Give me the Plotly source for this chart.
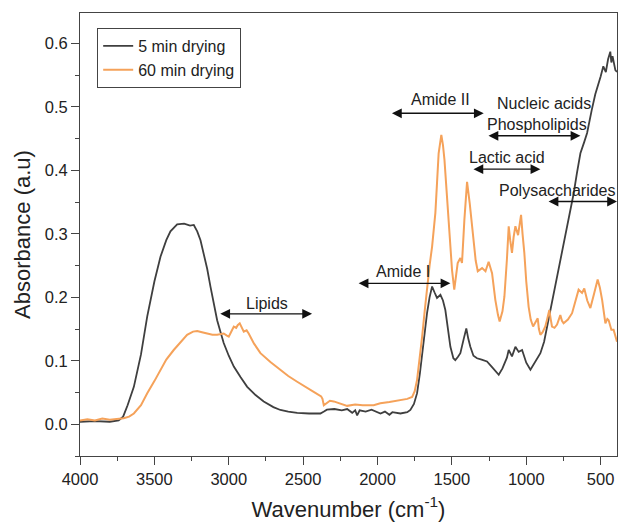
import plotly.graph_objects as go

# ---- data ----
wn_5min = [4000, 3900, 3800, 3740, 3710, 3680, 3638, 3590, 3548, 3500, 3459, 3420, 3392, 3347, 3300, 3260,
           3235, 3212, 3190, 3168, 3145, 3123, 3100, 3078, 3055, 3034, 3000, 2966, 2920, 2876, 2820, 2765,
           2700, 2653, 2600, 2540, 2460, 2384, 2360, 2340, 2290, 2240, 2204, 2170, 2150, 2137, 2120, 2080,
           2040, 2000, 1980, 1950, 1920, 1900, 1846, 1800, 1779, 1755, 1734, 1715, 1700, 1683, 1667, 1650,
           1633, 1617, 1600, 1577, 1560, 1544, 1527, 1510, 1490, 1477, 1460, 1443, 1420, 1403, 1390, 1376,
           1355, 1331, 1300, 1264, 1230, 1185, 1160, 1130, 1118, 1096, 1073, 1051, 1028, 1000, 972, 940,
           905, 880, 860, 825, 793, 760, 726, 700, 681, 660, 636, 610, 591, 560, 536, 500, 482, 465, 450,
           435, 428, 420, 410, 401, 390]
abs_5min = [0.004, 0.005, 0.004, 0.006, 0.012, 0.030, 0.059, 0.110, 0.170, 0.225, 0.264, 0.290, 0.304, 0.315,
            0.316, 0.313, 0.314, 0.304, 0.290, 0.270, 0.245, 0.217, 0.190, 0.164, 0.145, 0.128, 0.108, 0.091,
            0.074, 0.059, 0.046, 0.036, 0.027, 0.0225, 0.020, 0.018, 0.017, 0.017, 0.020, 0.023, 0.024, 0.022,
            0.024, 0.018, 0.022, 0.014, 0.022, 0.020, 0.023, 0.019, 0.017, 0.020, 0.015, 0.019, 0.017, 0.019,
            0.0225, 0.032, 0.049, 0.080, 0.112, 0.145, 0.175, 0.200, 0.217, 0.208, 0.199, 0.204, 0.195, 0.180,
            0.150, 0.122, 0.104, 0.101, 0.106, 0.112, 0.135, 0.151, 0.135, 0.122, 0.108, 0.104, 0.102, 0.099,
            0.090, 0.078, 0.088, 0.105, 0.117, 0.107, 0.122, 0.114, 0.117, 0.097, 0.086, 0.098, 0.112, 0.130,
            0.154, 0.190, 0.233, 0.272, 0.311, 0.340, 0.364, 0.395, 0.427, 0.445, 0.459, 0.495, 0.520, 0.548,
            0.564, 0.555, 0.575, 0.587, 0.570, 0.580, 0.565, 0.558, 0.555]

wn_60min = [4000, 3950, 3900, 3850, 3800, 3750, 3706, 3670, 3638, 3590, 3548, 3500, 3459, 3420, 3370, 3320,
            3280, 3240, 3212, 3180, 3145, 3110, 3078, 3050, 3034, 3015, 3000, 2985, 2966, 2950, 2940, 2926,
            2910, 2899, 2880, 2866, 2830, 2787, 2720, 2653, 2600, 2540, 2480, 2429, 2379, 2370, 2361, 2340,
            2320, 2294, 2250, 2204, 2150, 2100, 2026, 1981, 1920, 1846, 1800, 1767, 1750, 1734, 1717, 1700,
            1683, 1667, 1650, 1633, 1611, 1600, 1589, 1571, 1560, 1550, 1535, 1521, 1510, 1499, 1484, 1470,
            1461, 1443, 1432, 1416, 1398, 1380, 1365, 1353, 1340, 1326, 1297, 1274, 1253, 1230, 1208, 1190,
            1179, 1160, 1147, 1130, 1118, 1108, 1096, 1085, 1073, 1055, 1045, 1035, 1025, 1013, 1000, 984,
            970, 954, 940, 923, 915, 905, 890, 872, 860, 845, 835, 827, 810, 793, 771, 760, 749, 720, 692,
            670, 648, 625, 610, 590, 569, 545, 520, 505, 490, 468, 455, 446, 428, 413, 400, 390]
abs_60min = [0.006, 0.008, 0.006, 0.009, 0.007, 0.008, 0.0095, 0.012, 0.017, 0.030, 0.049, 0.068, 0.086,
             0.102, 0.117, 0.130, 0.141, 0.146, 0.147, 0.145, 0.143, 0.141, 0.141, 0.142, 0.143, 0.140, 0.138,
             0.145, 0.154, 0.152, 0.156, 0.159, 0.150, 0.146, 0.148, 0.143, 0.127, 0.112, 0.098, 0.086, 0.076,
             0.067, 0.059, 0.051, 0.044, 0.040, 0.030, 0.034, 0.037, 0.036, 0.032, 0.029, 0.031, 0.030, 0.030,
             0.033, 0.035, 0.038, 0.040, 0.043, 0.052, 0.070, 0.100, 0.138, 0.178, 0.217, 0.250, 0.280, 0.333,
             0.380, 0.427, 0.456, 0.440, 0.417, 0.370, 0.322, 0.280, 0.243, 0.212, 0.240, 0.254, 0.262, 0.254,
             0.322, 0.382, 0.348, 0.310, 0.285, 0.258, 0.241, 0.246, 0.241, 0.256, 0.238, 0.196, 0.172, 0.162,
             0.178, 0.201, 0.260, 0.312, 0.290, 0.270, 0.295, 0.312, 0.298, 0.312, 0.330, 0.300, 0.270, 0.225,
             0.185, 0.165, 0.154, 0.160, 0.167, 0.150, 0.141, 0.145, 0.154, 0.165, 0.180, 0.165, 0.154, 0.152,
             0.157, 0.172, 0.163, 0.159, 0.165, 0.175, 0.195, 0.212, 0.207, 0.214, 0.195, 0.183, 0.205, 0.228,
             0.215, 0.196, 0.159, 0.166, 0.164, 0.149, 0.149, 0.138, 0.130]

# band annotations: label, label position, arrow start / end wavenumber, arrow height
band_labels = ["Lipids", "Amide I", "Amide II", "Nucleic acids", "Phospholipids", "Lactic acid", "Polysaccharides"]
label_wn = [2742, 1832, 1577, 883, 927, 1129, 793]
label_abs = [0.191, 0.240, 0.512, 0.505, 0.472, 0.421, 0.369]
arrow_from = [3067, 2137, 1913, 1264, 1365, 860]
arrow_to = [2440, 1510, 1286, 636, 905, 390]
arrow_abs = [0.174, 0.222, 0.490, 0.4545, 0.402, 0.351]

FONT = "Liberation Sans, Arial, sans-serif"

fig = go.Figure()
fig.add_trace(go.Scatter(x=wn_5min, y=abs_5min, mode="lines", name="5 min drying",
                         line=dict(color="#3f3f3f", width=1.8)))
fig.add_trace(go.Scatter(x=wn_60min, y=abs_60min, mode="lines", name="60 min drying",
                         line=dict(color="#f5a25a", width=2)))

for lab, lx, ly in zip(band_labels, label_wn, label_abs):
    fig.add_annotation(x=lx, y=ly, text=lab, showarrow=False, xref="x", yref="y",
                       font=dict(family=FONT, size=16, color="#222222"))

for a0, a1, ay in zip(arrow_from, arrow_to, arrow_abs):
    fig.add_annotation(x=a1, y=ay, ax=a0, ay=ay, xref="x", yref="y", axref="x", ayref="y",
                       text="", showarrow=True, arrowhead=2, startarrowhead=2, arrowside="end+start",
                       arrowsize=1.4, startarrowsize=1.4, arrowwidth=1.4, arrowcolor="#111111",
                       standoff=0, startstandoff=0)

fig.update_layout(
    width=619, height=528,
    margin=dict(l=80, r=2, t=13, b=72, autoexpand=False),
    paper_bgcolor="white", plot_bgcolor="white",
    font=dict(family=FONT, size=16, color="#222222"),
    showlegend=True,
    legend=dict(x=0.032, y=0.966, xanchor="left", yanchor="top",
                bordercolor="#444444", borderwidth=1, bgcolor="white",
                font=dict(family=FONT, size=16, color="#222222"),
                tracegroupgap=0, itemwidth=30),
)
fig.update_xaxes(
    range=[4000, 390], tickmode="linear", tick0=500, dtick=500, automargin=False,
    ticks="outside", ticklen=8, tickwidth=1, tickcolor="#444444",
    showline=True, linecolor="#444444", linewidth=1, mirror=True,
    showgrid=False, zeroline=False,
    tickfont=dict(family=FONT, size=16.5, color="#222222"),
    minor=dict(dtick=250, tick0=500, ticks="outside", ticklen=4, tickcolor="#444444", showgrid=False),
    title=dict(text="Wavenumber (cm<sup>-1</sup>)", font=dict(family=FONT, size=22, color="#222222"),
               standoff=14),
)
fig.update_yaxes(
    range=[-0.05, 0.648], tickmode="linear", tick0=0, dtick=0.1, tickformat=".1f", automargin=False,
    ticks="outside", ticklen=8, tickwidth=1, tickcolor="#444444",
    showline=True, linecolor="#444444", linewidth=1, mirror=True,
    showgrid=False, zeroline=False,
    tickfont=dict(family=FONT, size=16.5, color="#222222"),
    minor=dict(dtick=0.05, tick0=0, ticks="outside", ticklen=4, tickcolor="#444444", showgrid=False),
    title=dict(text="Absorbance (a.u)", font=dict(family=FONT, size=22, color="#222222"), standoff=8),
)

fig.write_html("out.html", config={"displayModeBar": False},
               post_script="document.body.style.margin='0px';document.body.style.overflow='hidden';")
